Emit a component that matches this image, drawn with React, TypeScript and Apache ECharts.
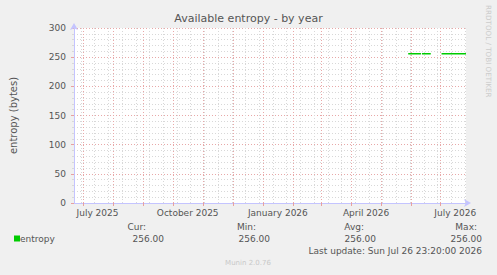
import React, { useEffect, useRef } from "react";
import * as echarts from "echarts";

const chartTitle = "Available entropy - by year";
const yAxisName = "entropy (bytes)";
const seriesName = "entropy";
const rangeStart = "2025-06-21T23:20:00Z";
const rangeEnd = "2026-07-26T23:20:00Z";

// visible data segments (value constant over each)
const segmentStarts = ["2026-05-29", "2026-06-12", "2026-07-02"];
const segmentEnds = ["2026-06-11", "2026-06-21", "2026-07-26T23:20:00Z"];
const segmentValues = [256, 256, 256];

const monthStarts = [
  "2025-07-01", "2025-08-01", "2025-09-01", "2025-10-01", "2025-11-01",
  "2025-12-01", "2026-01-01", "2026-02-01", "2026-03-01", "2026-04-01",
  "2026-05-01", "2026-06-01", "2026-07-01",
];
const xLabelTexts = ["July 2025", "October 2025", "January 2026", "April 2026", "July 2026"];
const xLabelDates = ["2025-07-16", "2025-10-16", "2026-01-16", "2026-04-16", "2026-07-16"];
const firstMinorLine = "2025-06-29";
const minorLineDays = 14;

const yMin = 0;
const yMax = 300;
const yStep = 50;

const statHeaders = ["Cur:", "Min:", "Avg:", "Max:"];
const statValues = [256, 256, 256, 256];
const lastUpdate = "Last update: Sun Jul 26 23:20:00 2026";
const versionText = "Munin 2.0.76";
const watermark = "RRDTOOL / TOBI OETIKER";

const ts = (s: string) => Date.parse(s.length === 10 ? s + "T00:00:00Z" : s);

export default function App() {
  const ref = useRef<HTMLDivElement>(null);
  useEffect(() => {
    if (!ref.current) return;
    const chart = echarts.init(ref.current, undefined, { renderer: "svg" });
    const font = "DejaVu Sans";
    const txt = "#555555";

    const data: any[] = [];
    segmentStarts.forEach((s, i) => {
      data.push([ts(s), segmentValues[i]]);
      data.push([ts(segmentEnds[i]), segmentValues[i]]);
      if (i < segmentStarts.length - 1) {
        data.push([(ts(segmentEnds[i]) + ts(segmentStarts[i + 1])) / 2, null]);
      }
    });

    const minorLines: number[] = [];
    for (let t = ts(firstMinorLine); t <= ts(rangeEnd); t += minorLineDays * 86400000) {
      minorLines.push(t);
    }
    const labelVals = xLabelDates.map(ts);
    const labelFor = (v: number) => {
      let best = 0;
      labelVals.forEach((lv, i) => {
        if (Math.abs(lv - v) < Math.abs(labelVals[best] - v)) best = i;
      });
      return xLabelTexts[best];
    };

    // stat columns: [header right edge, value right edge]
    const statPos = [
      [146, 164],
      [256, 270],
      [364, 376],
      [477, 482],
    ];
    const graphics: any[] = [];
    statHeaders.forEach((h, i) => {
      graphics.push({
        type: "text", x: statPos[i][0], y: 227,
        style: { text: h, fill: txt, fontSize: 9, fontFamily: font, textAlign: "right", textVerticalAlign: "middle" },
      });
      graphics.push({
        type: "text", x: statPos[i][1], y: 239,
        style: { text: statValues[i].toFixed(2), fill: txt, fontSize: 9, fontFamily: font, textAlign: "right", textVerticalAlign: "middle" },
      });
    });
    graphics.push({
      type: "text", x: 482, y: 251,
      style: { text: lastUpdate, fill: txt, fontSize: 9, fontFamily: font, textAlign: "right", textVerticalAlign: "middle" },
    });
    graphics.push({
      type: "text", x: 248, y: 263,
      style: { text: versionText, fill: "#c8c8c8", fontSize: 7, fontFamily: font, textAlign: "center", textVerticalAlign: "middle" },
    });
    graphics.push({
      type: "text", x: 488, y: 5, rotation: -Math.PI / 2,
      style: { text: watermark, fill: "#cccccc", fontSize: 7.2, fontFamily: font, textAlign: "left", textVerticalAlign: "middle" },
    });

    const gridSeries = (name: string, values: number[], color: string) => ({
      name, type: "line", data: [], z: 1, silent: true,
      markLine: {
        silent: true, symbol: ["none", "none"], animation: false,
        label: { show: false },
        lineStyle: { color, width: 1, type: [1, 2] },
        emphasis: { disabled: true },
        data: values.map((v) => ({ xAxis: v })),
      },
    });

    chart.setOption({
      animation: false,
      backgroundColor: "#f0f0f0",
      title: {
        text: chartTitle, left: "center", top: 13, padding: 0,
        textStyle: { fontSize: 11, fontWeight: "normal", color: txt, fontFamily: font },
      },
      legend: {
        data: [seriesName], left: 14, top: 234, padding: 0,
        icon: "rect", itemWidth: 6, itemHeight: 6,
        textStyle: { fontSize: 9, color: txt, fontFamily: font, padding: [0, 0, 0, -5] },
      },
      grid: {
        left: 67, right: 31, top: 28, bottom: 72, show: true,
        backgroundColor: "#ffffff", borderWidth: 0,
      },
      xAxis: {
        type: "value", min: ts(rangeStart), max: ts(rangeEnd),
        axisLine: {
          show: true, lineStyle: { color: "#c4c4ff", width: 1 },
          symbol: ["none", "arrow"], symbolSize: [6, 7], symbolOffset: [0, 5],
        },
        axisTick: {
          show: true, customValues: monthStarts.map(ts), length: 3,
          lineStyle: { color: "#e8a0a0" },
        },
        axisLabel: {
          customValues: labelVals,
          formatter: (v: number) => labelFor(v),
          color: txt, fontSize: 9, fontFamily: font, margin: 5, hideOverlap: false,
        },
        splitLine: { show: false },
      },
      yAxis: {
        type: "value", min: yMin, max: yMax, interval: yStep,
        name: yAxisName, nameLocation: "middle", nameGap: 56,
        nameTextStyle: { fontSize: 10, color: txt, fontFamily: font },
        axisLine: {
          show: true, lineStyle: { color: "#c4c4ff", width: 1 },
          symbol: ["none", "arrow"], symbolSize: [6, 7], symbolOffset: [0, 5],
        },
        axisTick: { show: true, length: 3, lineStyle: { color: "#e8a0a0" } },
        minorTick: { show: true, splitNumber: 5, length: 2, lineStyle: { color: "#d8d8d8" } },
        axisLabel: { color: txt, fontSize: 9, fontFamily: font, margin: 8 },
        splitLine: { show: true, lineStyle: { color: "#e8a8a8", width: 1, type: [1, 2] } },
        minorSplitLine: { show: true, lineStyle: { color: "#d8d8d8", width: 1, type: [1, 2] } },
      },
      series: [
        gridSeries("minor-grid", minorLines, "#d8d8d8"),
        gridSeries("major-grid", monthStarts.map(ts), "#e8a8a8"),
        {
          name: seriesName, type: "line", data, showSymbol: false, connectNulls: false,
          z: 5, lineStyle: { color: "#00cc00", width: 1.5 }, itemStyle: { color: "#00cc00" },
        },
      ],
      graphic: graphics,
    });
    return () => chart.dispose();
  }, []);
  return <div ref={ref} style={{ position: "absolute", left: 0, top: 0, width: 497, height: 275 }} />;
}
